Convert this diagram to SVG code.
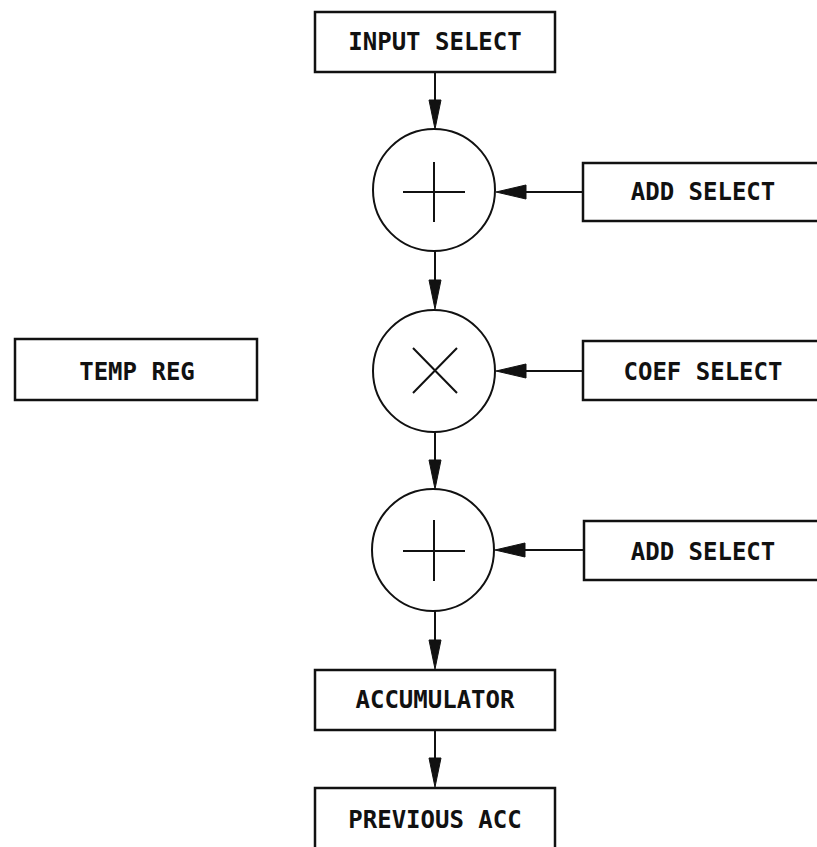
<svg xmlns="http://www.w3.org/2000/svg" width="817" height="847" viewBox="0 0 817 847">
<defs>
<style>
.box{fill:#fff;stroke:#111;stroke-width:2.5}
.op{fill:#fff;stroke:#111;stroke-width:2}
.sym{stroke:#111;stroke-width:2;fill:none}
.lbl{font-family:"DejaVu Sans Mono","Liberation Mono",monospace;font-size:24px;font-weight:bold;fill:#111;text-anchor:middle}
.wire{stroke:#111;stroke-width:2;fill:none}
.head{fill:#111;stroke:#111;stroke-width:1}
</style>
</defs>
<rect width="817" height="847" fill="#fff"/>
<g id="connectors">
<line class="wire" x1="435" y1="72" x2="435" y2="110"/>
<polygon class="head" points="435,129 429,100 441,100"/>
<line class="wire" x1="435" y1="251" x2="435" y2="290"/>
<polygon class="head" points="435,309 429,280 441,280"/>
<line class="wire" x1="435" y1="431" x2="435" y2="470"/>
<polygon class="head" points="435,489 429,460 441,460"/>
<line class="wire" x1="435" y1="611" x2="435" y2="650"/>
<polygon class="head" points="435,669 429,640 441,640"/>
<line class="wire" x1="435" y1="730" x2="435" y2="768"/>
<polygon class="head" points="435,787 429,758 441,758"/>
<line class="wire" x1="583" y1="192" x2="520" y2="192"/>
<polygon class="head" points="496,192 526,185 526,199"/>
<line class="wire" x1="583" y1="371" x2="520" y2="371"/>
<polygon class="head" points="496,371 526,364 526,378"/>
<line class="wire" x1="584" y1="550" x2="520" y2="550"/>
<polygon class="head" points="495,550 525,543 525,557"/>
</g>
<g id="input-select">
<rect class="box" x="315" y="12" width="240" height="60"/>
<text class="lbl" x="435" y="50">INPUT SELECT</text>
</g>
<g id="add1">
<circle class="op" cx="434" cy="190" r="61"/>
<path class="sym" d="M403,192H465M434,162V222"/>
</g>
<g id="add-select-1">
<rect class="box" x="583" y="163" width="250" height="58"/>
<text class="lbl" x="703" y="200">ADD SELECT</text>
</g>
<g id="mult">
<circle class="op" cx="434" cy="371" r="61"/>
<path class="sym" d="M413,348L457,393M457,348L413,393"/>
</g>
<g id="coef-select">
<rect class="box" x="583" y="341" width="250" height="59"/>
<text class="lbl" x="703" y="380">COEF SELECT</text>
</g>
<g id="temp-reg">
<rect class="box" x="15" y="339" width="242" height="61"/>
<text class="lbl" x="137" y="380">TEMP REG</text>
</g>
<g id="add2">
<circle class="op" cx="433" cy="550" r="61"/>
<path class="sym" d="M403,551H465M434,520V581"/>
</g>
<g id="add-select-2">
<rect class="box" x="584" y="521" width="250" height="59"/>
<text class="lbl" x="703" y="560">ADD SELECT</text>
</g>
<g id="accumulator">
<rect class="box" x="315" y="670" width="240" height="60"/>
<text class="lbl" x="435" y="708">ACCUMULATOR</text>
</g>
<g id="previous-acc">
<rect class="box" x="315" y="788" width="240" height="70"/>
<text class="lbl" x="435" y="828">PREVIOUS ACC</text>
</g>
</svg>
